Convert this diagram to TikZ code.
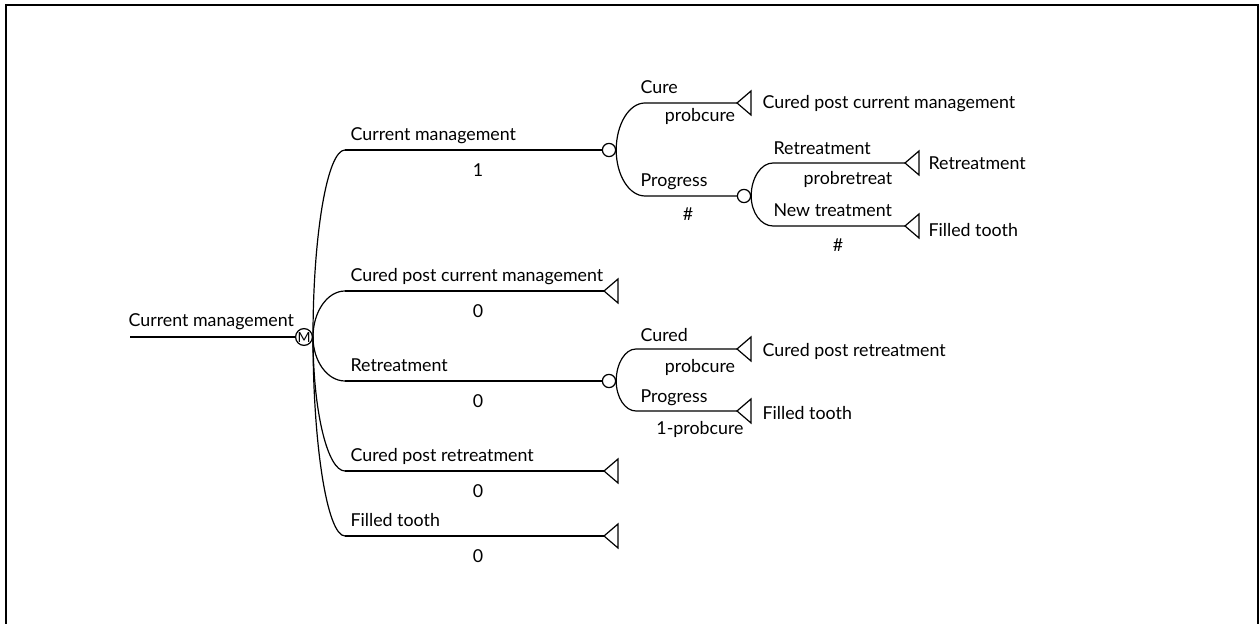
\documentclass[tikz,border=0pt]{standalone}
\usepackage{fontspec}
\setmainfont{Lato}
\usetikzlibrary{calc}
\begin{document}
\begin{tikzpicture}[x=0.5pt, y=-0.5pt, line width=0.6pt,
  lbl/.style={font=\fontsize{8.9}{10}\selectfont, inner sep=0pt, anchor=base west},
  val/.style={font=\fontsize{8.9}{10}\selectfont, inner sep=0pt, anchor=base},
  chance/.style={draw, circle, minimum size=6.6pt, inner sep=0pt},
  decision/.style={draw, circle, minimum size=8.4pt, inner sep=0pt, font=\fontsize{7}{7}\selectfont},
  branch/.style={to path={.. controls ($(\tikztostart)!0.55!(\tikztostart |- \tikztotarget)$)
      and ($(\tikztotarget)!0.55!(\tikztostart |- \tikztotarget)$) .. (\tikztotarget)}}]
  \useasboundingbox (0,0) rectangle (1260,624);
  \draw[line width=1pt] (6,640) |- (1258,5) -- (1258,640);

  % decision node and its branches
  \node[decision] (M) at (304,337) {M};
  \coordinate (root) at (130,337);
  \node[lbl] (rootlbl) at (128,327) {Current management};
  \draw (root) -- (M);
  \coordinate (d1) at (345,150);
  \coordinate (d2) at (345,291);
  \coordinate (d3) at (345,381);
  \coordinate (d4) at (345,471);
  \coordinate (d5) at (345,536);
  \foreach \d in {d1,d2,d3,d4,d5}
    \draw (M.east) to[branch] (\d);
  \node[chance] (c1) at (609,150) {};
  \node[chance] (c3) at (609,381) {};
  \coordinate (e2) at (604,291);
  \coordinate (e4) at (604,471);
  \coordinate (e5) at (604,536);
  \draw (d1) -- (c1);
  \draw (d2) -- (e2);
  \draw (d3) -- (c3);
  \draw (d4) -- (e4);
  \draw (d5) -- (e5);
  \node[lbl] (l1) at (350,141) {Current management};
  \node[val] (v1) at (478,177) {1};
  \node[lbl] (l2) at (350,282) {Cured post current management};
  \node[val] (v2) at (478,318) {0};
  \node[lbl] (l3) at (350,372) {Retreatment};
  \node[val] (v3) at (478,408) {0};
  \node[lbl] (l4) at (350,462) {Cured post retreatment};
  \node[val] (v4) at (478,498) {0};
  \node[lbl] (l5) at (350,527) {Filled tooth};
  \node[val] (v5) at (478,563) {0};

  % chance node after current management
  \coordinate (b11) at (645,103);
  \coordinate (b12) at (645,196);
  \coordinate (e11) at (737,103);
  \node[chance] (c2) at (744,196) {};
  \draw (c1.east) to[branch] (b11) -- (e11);
  \draw (c1.east) to[branch] (b12) -- (c2);
  \node[lbl] (l11) at (640,94) {Cure};
  \node[val] (v11) at (700,122) {probcure};
  \node[lbl] (t11) at (762,109) {Cured post current management};
  \node[lbl] (l12) at (640,187) {Progress};
  \node[val] (v12) at (688,221) {\#};

  % chance node after progress
  \coordinate (b21) at (773,163);
  \coordinate (b22) at (773,226);
  \coordinate (e21) at (905,163);
  \coordinate (e22) at (905,226);
  \draw (c2.east) to[branch] (b21) -- (e21);
  \draw (c2.east) to[branch] (b22) -- (e22);
  \node[lbl] (l21) at (773,155) {Retreatment};
  \node[val] (v21) at (848,185) {probretreat};
  \node[lbl] (t21) at (928,170) {Retreatment};
  \node[lbl] (l22) at (773,217) {New treatment};
  \node[val] (v22) at (838,252) {\#};
  \node[lbl] (t22) at (928,237) {Filled tooth};

  % chance node after retreatment
  \coordinate (b31) at (636,349);
  \coordinate (b32) at (636,411);
  \coordinate (e31) at (737,349);
  \coordinate (e32) at (737,411);
  \draw (c3.east) to[branch] (b31) -- (e31);
  \draw (c3.east) to[branch] (b32) -- (e32);
  \node[lbl] (l31) at (640,342) {Cured};
  \node[val] (v31) at (700,373) {probcure};
  \node[lbl] (t31) at (762,357) {Cured post retreatment};
  \node[lbl] (l32) at (640,403) {Progress};
  \node[val] (v32) at (700,435) {1-probcure};
  \node[lbl] (t32) at (762,420) {Filled tooth};

  % terminal nodes
  \foreach \e in {e2,e4,e5,e11,e21,e22,e31,e32}
    \draw (\e) -- ++(14,-12) -- ++(0,24) -- cycle;
\end{tikzpicture}
\end{document}
